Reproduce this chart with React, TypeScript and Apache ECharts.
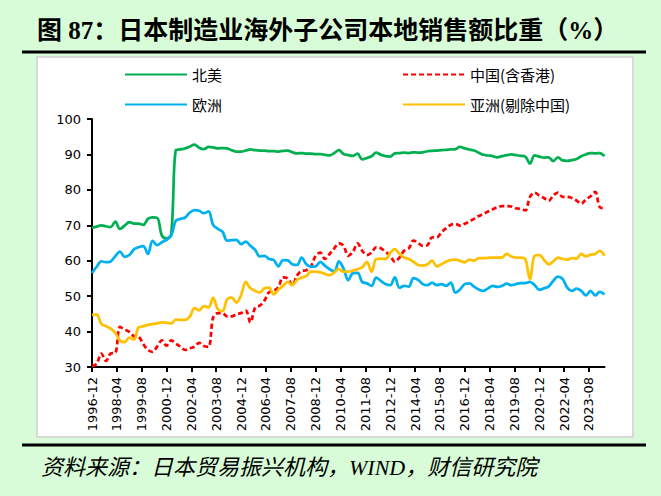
import React, { useEffect, useRef } from "react";
import * as echarts from "echarts";

// Quarterly observations starting 1996-12 (x = months since 1996-12)
const monthsPerPoint = 3;

const xTickLabels = [
  "1996-12", "1998-04", "1999-08", "2000-12", "2002-04", "2003-08", "2004-12",
  "2006-04", "2007-08", "2008-12", "2010-04", "2011-08", "2012-12", "2014-04",
  "2015-08", "2016-12", "2018-04", "2019-08", "2020-12", "2022-04", "2023-08",
];
const monthsPerTick = 16;
const lastMonth = 330;

const yTicks = { min: 30, max: 100, interval: 10 };

const northAmerica = [
  69.3, 69.6, 70.0, 69.7, 69.5, 71.0, 69.0, 69.9, 70.9, 70.5,
  70.5, 70.1, 71.8, 72.2, 72.1, 67.1, 66.3, 67.5, 91.2, 91.4,
  91.7, 92.2, 92.8, 91.9, 91.5, 92.1, 92.0, 91.7, 91.8, 91.7,
  91.2, 90.8, 90.8, 91.1, 91.4, 91.2, 91.1, 91.1, 90.9, 90.9,
  90.8, 91.0, 91.1, 90.6, 90.3, 90.4, 90.2, 90.2, 90.1, 90.1,
  89.9, 89.7, 90.4, 91.2, 90.1, 89.8, 89.6, 90.2, 88.6, 89.0,
  89.5, 90.5, 89.9, 89.5, 89.4, 90.3, 90.4, 90.5, 90.4, 90.6,
  90.5, 90.6, 90.9, 91.0, 91.1, 91.2, 91.3, 91.4, 91.5, 92.1,
  91.7, 91.4, 91.1, 90.5, 89.9, 89.7, 89.5, 89.2, 89.5, 89.8,
  90.0, 89.8, 89.6, 89.4, 87.4, 89.7, 89.4, 89.1, 89.2, 88.1,
  89.2, 88.3, 88.2, 88.4, 88.7, 89.5, 90.0, 90.4, 90.3, 90.4, 89.5,
];

const china = [
  30.2, 30.9, 33.8, 31.7, 33.8, 34.0, 41.3, 40.6, 39.9, 38.7,
  38.5, 36.5, 34.8, 34.3, 35.8, 37.5, 36.0, 37.5, 36.6, 35.7,
  34.8, 35.3, 35.7, 36.8, 35.9, 35.7, 44.0, 45.2, 45.2, 44.3,
  44.3, 44.9, 45.2, 45.9, 42.6, 46.7, 47.3, 48.7, 51.1, 51.5,
  52.5, 55.3, 55.0, 53.1, 55.8, 57.1, 57.3, 58.4, 61.4, 62.3,
  60.5, 61.9, 63.5, 64.9, 64.2, 61.4, 62.5, 64.9, 62.8, 61.6,
  62.3, 63.8, 63.5, 62.5, 61.4, 59.7, 60.9, 62.8, 63.5, 65.7,
  65.0, 64.2, 64.4, 66.6, 66.6, 68.0, 69.2, 70.1, 70.4, 69.9,
  70.4, 71.1, 71.8, 72.6, 73.2, 73.9, 74.5, 75.1, 75.4, 75.4,
  75.3, 74.8, 74.6, 74.2, 78.0, 79.2, 78.4, 77.7, 76.9, 78.4,
  79.2, 78.0, 78.0, 77.7, 77.0, 76.1, 77.3, 78.2, 79.4, 75.1, 74.8,
];

const europe = [
  56.5, 58.3, 59.8, 59.6, 59.8, 61.3, 62.6, 61.1, 61.6, 63.2,
  63.8, 64.1, 61.9, 65.6, 64.4, 65.2, 65.9, 67.1, 71.3, 71.8,
  72.2, 73.6, 74.3, 74.1, 73.4, 73.9, 70.1, 69.0, 68.2, 65.7,
  65.8, 65.9, 64.7, 65.4, 64.2, 63.1, 61.2, 61.4, 60.5, 60.2,
  58.4, 60.2, 60.1, 59.0, 58.8, 60.9, 59.0, 58.3, 58.4, 59.7,
  58.6, 57.6, 57.0, 59.8, 57.8, 54.5, 56.5, 56.6, 54.0, 53.6,
  52.9, 55.2, 54.3, 53.4, 53.1, 55.3, 52.4, 52.9, 52.7, 55.1,
  54.6, 53.4, 53.1, 53.8, 53.1, 53.4, 52.9, 53.8, 51.0, 51.9,
  53.4, 53.6, 52.7, 51.9, 51.5, 52.2, 52.9, 52.6, 52.9, 53.5,
  53.1, 53.4, 53.7, 53.7, 54.0, 53.1, 51.8, 52.2, 52.7, 54.3,
  55.5, 54.9, 52.4, 51.5, 52.1, 51.5, 50.2, 51.5, 50.2, 51.2, 50.5,
];

const asiaExChina = [
  44.7, 44.8, 42.2, 41.5, 40.8, 39.6, 37.5, 37.0, 38.3, 37.8,
  41.2, 41.5, 41.9, 42.1, 42.3, 42.6, 42.5, 42.3, 43.4, 43.3,
  43.3, 44.2, 46.6, 46.0, 47.2, 46.8, 49.5, 46.3, 45.8, 49.1,
  49.6, 48.2, 50.3, 54.0, 52.2, 51.5, 51.0, 52.2, 52.4, 50.5,
  51.8, 52.9, 54.0, 53.1, 54.6, 55.2, 55.7, 56.9, 56.9, 56.7,
  56.3, 55.9, 56.7, 57.6, 56.9, 56.9, 57.2, 57.6, 58.1, 59.7,
  56.9, 60.5, 60.6, 60.5, 62.2, 63.3, 61.9, 60.9, 60.5, 59.7,
  58.8, 58.6, 59.0, 60.0, 58.4, 59.0, 59.7, 60.2, 60.3, 60.0,
  59.5, 60.3, 60.0, 60.7, 60.7, 60.8, 60.9, 60.9, 60.9, 61.9,
  61.2, 60.9, 60.9, 60.5, 54.8, 61.4, 61.6, 60.3, 59.0, 59.8,
  60.9, 60.5, 60.3, 60.7, 60.6, 61.9, 61.2, 61.7, 61.9, 62.8, 61.4,
];

const seriesDefs = [
  { name: "北美", data: northAmerica, color: "#00b050", type: "solid" },
  { name: "中国(含香港)", data: china, color: "#ff0000", type: [5, 3] },
  { name: "欧洲", data: europe, color: "#00b0f0", type: "solid" },
  { name: "亚洲(剔除中国)", data: asiaExChina, color: "#ffc000", type: "solid" },
];

const titleText = "图 87：日本制造业海外子公司本地销售额比重（%）";
const sourceText = "资料来源：日本贸易振兴机构，WIND，财信研究院";

const axisFont = "'DejaVu Sans', Verdana, sans-serif";
const cjkFont = "'Noto Sans CJK SC', 'DejaVu Sans', sans-serif";

export default function App() {
  const ref = useRef<HTMLDivElement>(null);

  useEffect(() => {
    if (!ref.current) return;
    const chart = echarts.init(ref.current, undefined, { renderer: "svg" });

    const tickValues = xTickLabels.map((_, i) => i * monthsPerTick);

    const legendBase = {
      left: 124,
      padding: 0,
      itemWidth: 62,
      itemHeight: 14,
      itemGap: 180,
      itemStyle: { opacity: 0, borderWidth: 0 },
      textStyle: { fontSize: 15, color: "#000", fontFamily: cjkFont },
    };

    const option: any = {
      animation: false,
      backgroundColor: "#d7fcd7",
      title: {
        text: titleText,
        left: 37,
        top: 18,
        padding: 0,
        textStyle: {
          fontSize: 25,
          fontWeight: "bold",
          color: "#000",
          fontFamily: "'Liberation Serif', 'Noto Sans CJK SC', serif",
        },
      },
      graphic: [
        {
          type: "rect",
          z: -10,
          shape: { x: 37, y: 57, width: 596, height: 380 },
          style: { fill: "#ffffff", stroke: "#d9d9d9", lineWidth: 2 },
        },
        {
          type: "line",
          shape: { x1: 22, y1: 52, x2: 646, y2: 52 },
          style: { stroke: "#000", lineWidth: 3 },
        },
        {
          type: "line",
          shape: { x1: 22, y1: 445, x2: 646, y2: 445 },
          style: { stroke: "#000", lineWidth: 3 },
        },
        {
          type: "text",
          x: 41,
          y: 467,
          style: {
            text: sourceText,
            fill: "#000",
            fontSize: 22,
            fontStyle: "italic",
            fontFamily: "'Liberation Serif', 'Noto Sans CJK SC', serif",
            verticalAlign: "middle",
          },
        },
      ],
      legend: [
        { ...legendBase, data: [seriesDefs[0].name, seriesDefs[1].name], top: 67 },
        { ...legendBase, data: [seriesDefs[2].name, seriesDefs[3].name], top: 97 },
      ],
      grid: { left: 92, right: 56.5, top: 119, bottom: 129, containLabel: false },
      xAxis: {
        type: "value",
        min: 0,
        max: lastMonth,
        splitLine: { show: false },
        axisLine: { show: true, onZero: false, lineStyle: { color: "#000", width: 2 } },
        axisTick: {
          show: true,
          length: 5,
          customValues: tickValues,
          lineStyle: { color: "#000", width: 2 },
        },
        axisLabel: {
          rotate: 90,
          margin: 10,
          customValues: tickValues,
          fontSize: 13,
          color: "#000",
          fontFamily: axisFont,
          formatter: (v: number) => xTickLabels[Math.round(v / monthsPerTick)] ?? "",
        },
      },
      yAxis: {
        type: "value",
        min: yTicks.min,
        max: yTicks.max,
        interval: yTicks.interval,
        splitLine: { show: false },
        axisLine: { show: true, lineStyle: { color: "#000", width: 2 } },
        axisTick: { show: true, length: 5, lineStyle: { color: "#000", width: 2 } },
        axisLabel: {
          margin: 11,
          fontSize: 13,
          color: "#000",
          fontFamily: axisFont,
        },
      },
      series: seriesDefs.map((s) => ({
        name: s.name,
        type: "line",
        symbol: "none",
        smooth: 0.35,
        data: s.data.map((v, i) => [i * monthsPerPoint, v]),
        itemStyle: { color: s.color },
        lineStyle: { color: s.color, width: 2.75, type: s.type },
      })),
    };

    chart.setOption(option);
    return () => chart.dispose();
  }, []);

  return (
    <div
      ref={ref}
      style={{ position: "absolute", left: 0, top: 0, width: 661, height: 496 }}
    />
  );
}
